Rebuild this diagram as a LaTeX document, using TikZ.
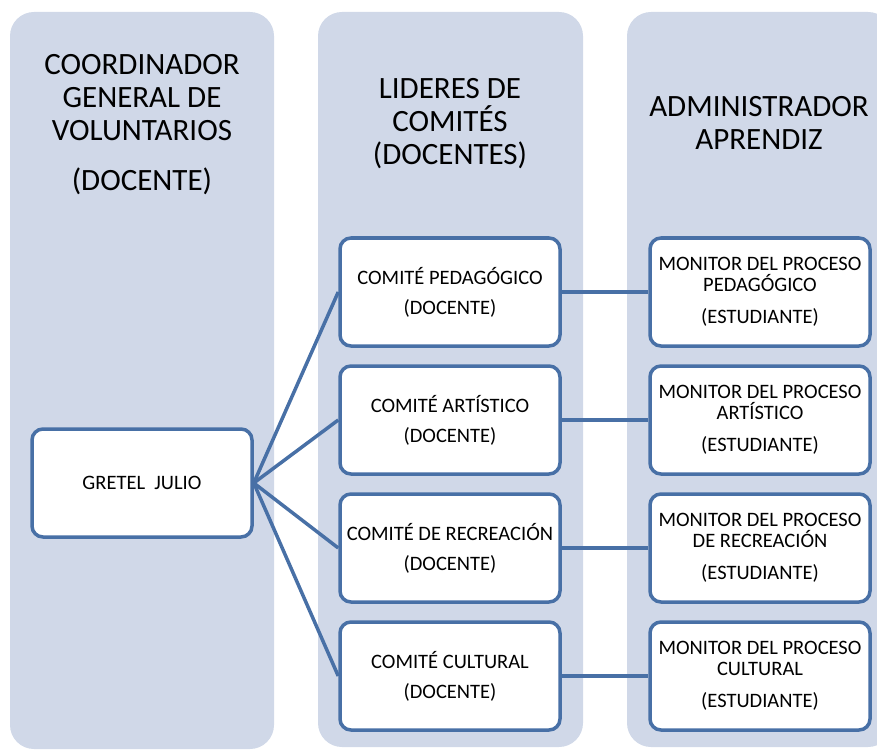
\documentclass[tikz,border=0pt]{standalone}
\usepackage{fontspec}
\setmainfont{Carlito}
\definecolor{fondocol}{RGB}{208,216,232}
\definecolor{bordeazul}{RGB}{72,112,166}
\begin{document}
\begin{tikzpicture}[x=1pt, y=-1pt, line width=3.5pt,
    columna/.style={fill=fondocol, rounded corners=24pt},
    caja/.style={draw=bordeazul, fill=white, rounded corners=11pt, minimum width=220pt, minimum height=108pt, align=center, font=\fontsize{20.5}{21}\selectfont},
    titulo/.style={align=center, font=\fontsize{31}{33}\selectfont},
    enlace/.style={draw=bordeazul}]
\useasboundingbox (0,0) rectangle (877,751);
\clip (0,0) rectangle (877,751);
% columnas de fondo
\fill[columna] (10,12) rectangle (274,749);
\fill[columna] (318,12) rectangle (583,747);
\fill[columna] (627,12) rectangle (892,747);
\node[titulo] (titcoord) at (142,125) {COORDINADOR\\GENERAL DE\\VOLUNTARIOS\\[17pt](DOCENTE)};
\node[titulo] (titlider) at (450,124) {LIDERES DE\\COMITÉS\\(DOCENTES)};
\node[titulo] (titadmin) at (759,123) {ADMINISTRADOR\\APRENDIZ};
\node[caja] (gretel) at (142,483) {GRETEL~~JULIO};
\foreach \n/\y/\com/\mon in {1/292/{COMITÉ PEDAGÓGICO}/{PEDAGÓGICO},
    2/420/{COMITÉ ARTÍSTICO}/{ARTÍSTICO},
    3/548/{COMITÉ DE RECREACIÓN}/{DE RECREACIÓN},
    4/676/{COMITÉ CULTURAL}/{CULTURAL}}
{
    \node[caja] (comite\n) at (450,\y) {\com\\[9pt](DOCENTE)};
    \node[caja] (monitor\n) at (760,\y) {MONITOR DEL PROCESO\\\mon\\[11pt](ESTUDIANTE)};
    \draw[enlace] (gretel.east)--(comite\n.west);
    \draw[enlace] (comite\n.east)--(monitor\n.west);
}
\end{tikzpicture}
\end{document}
